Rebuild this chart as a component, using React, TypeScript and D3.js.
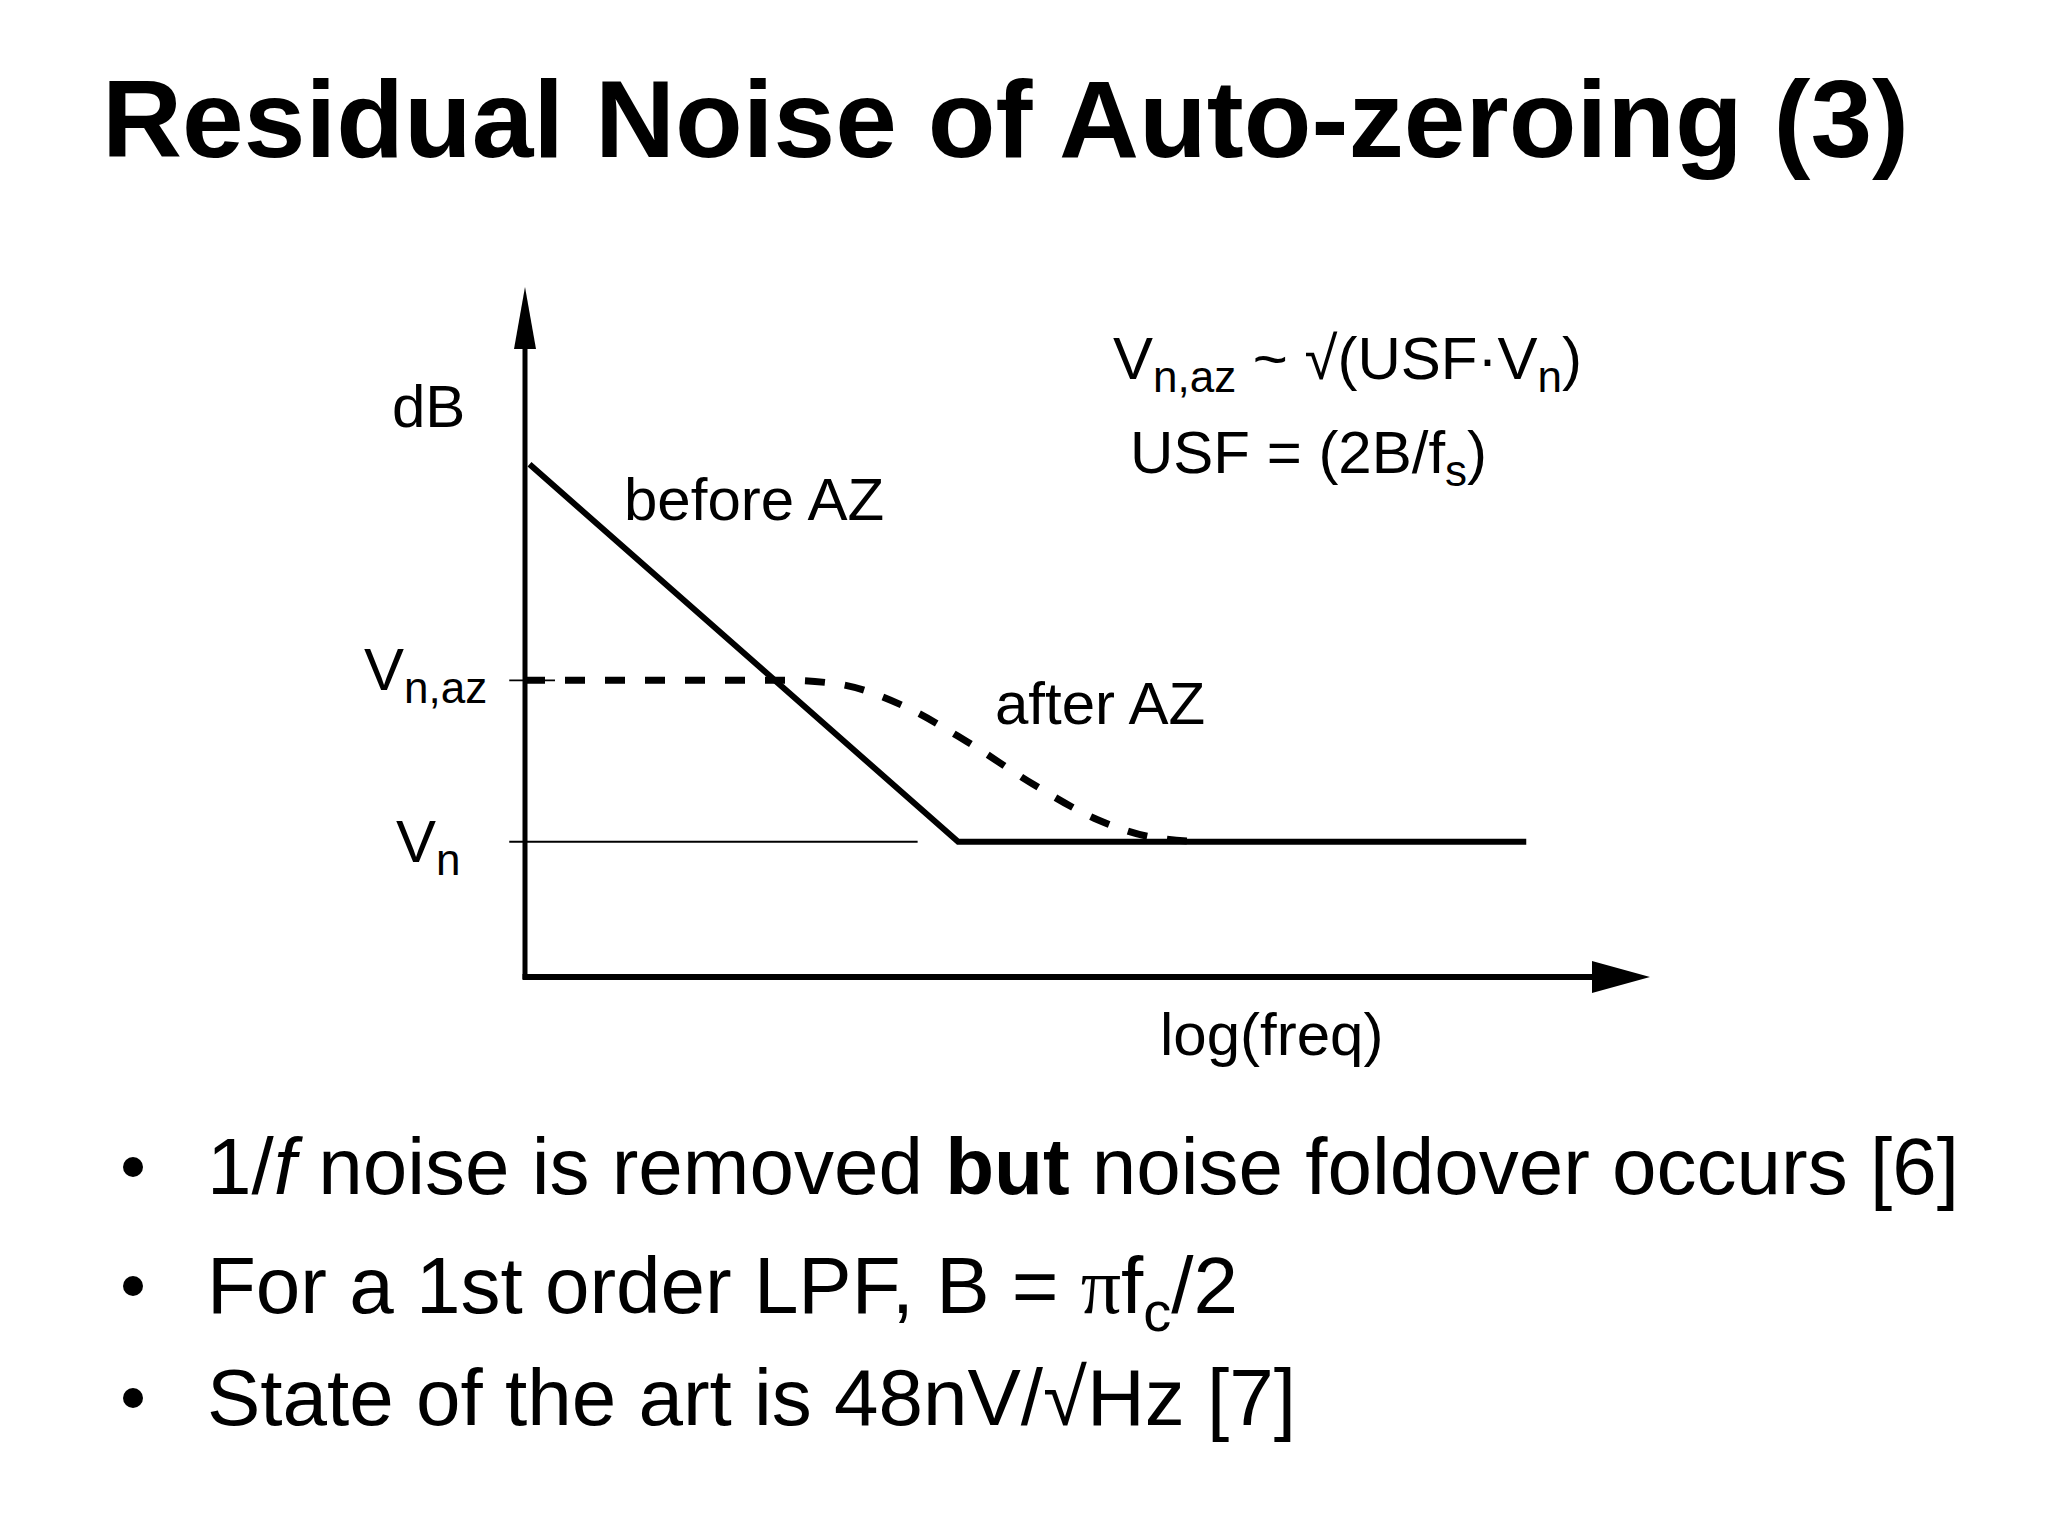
import React from "react";
import * as d3 from "d3";

// ---- data (axis units: x = log(freq) units, y = dB units) ----
const xDomain = [0, 10];
const yDomain = [0, 10];
const vnLevel = 1.96;
const vnazLevel = 4.3;
const beforeX = [0.04, 3.85, 8.9];
const beforeY = [7.43, vnLevel, vnLevel];
const afterX = [0.0, 2.31, 2.77, 3.35, 3.93, 4.51, 5.09, 5.56, 6.03];
const afterY = [vnazLevel, vnazLevel, 4.25, 3.94, 3.41, 2.8, 2.28, 2.03, vnLevel];
const vnRefX = [-0.14, 3.49];
const tickLabels = ["dB", "log(freq)"];

const FONT = "'Liberation Sans', Arial, Helvetica, sans-serif";

export default function App() {
  const x = d3.scaleLinear().domain(xDomain).range([525, 1650]);
  const y = d3.scaleLinear().domain(yDomain).range([977, 287]);
  const line = d3
    .line<[number, number]>()
    .x((d) => x(d[0]))
    .y((d) => y(d[1]));
  const curve = d3
    .line<[number, number]>()
    .x((d) => x(d[0]))
    .y((d) => y(d[1]))
    .curve(d3.curveMonotoneX);

  const beforePts = beforeX.map((v, i) => [v, beforeY[i]] as [number, number]);
  const afterPts = afterX.map((v, i) => [v, afterY[i]] as [number, number]);

  const x0 = x(0);
  const y0 = y(0);
  const xTip = x(xDomain[1]);
  const yTip = y(yDomain[1]);
  const bulletBase = [1194, 1313, 1425];

  return (
    <svg
      width={2048}
      height={1536}
      style={{ position: "absolute", left: 0, top: 0, background: "#fff" }}
      fontFamily={FONT}
    >
      <rect x={0} y={0} width={2048} height={1536} fill="#fff" />
      {/* title */}
      <text x={102} y={157} fontSize={110} fontWeight="bold" fill="#000" textLength={1807} lengthAdjust="spacingAndGlyphs">
        Residual Noise of Auto-zeroing (3)
      </text>

      {/* reference levels */}
      <line x1={x(vnRefX[0])} y1={y(vnLevel)} x2={x(vnRefX[1])} y2={y(vnLevel)} stroke="#000" strokeWidth={1.8} />
      <line x1={x(vnRefX[0])} y1={y(vnazLevel)} x2={x0 + 30} y2={y(vnazLevel)} stroke="#000" strokeWidth={1.8} />

      {/* axes */}
      <line x1={x0} y1={y0 + 2} x2={x0} y2={yTip + 50} stroke="#000" strokeWidth={5} />
      <path d={`M${x0},${yTip} L${x0 - 11},${yTip + 62} L${x0 + 11},${yTip + 62} Z`} fill="#000" />
      <line x1={x0 - 2.5} y1={y0} x2={xTip - 50} y2={y0} stroke="#000" strokeWidth={6} />
      <path d={`M${xTip},${y0} L${xTip - 58},${y0 - 16} L${xTip - 58},${y0 + 16} Z`} fill="#000" />

      {/* after AZ dashed */}
      <path d={curve(afterPts) || ""} fill="none" stroke="#000" strokeWidth={7} strokeDasharray="20 20" />
      {/* before AZ */}
      <path d={line(beforePts) || ""} fill="none" stroke="#000" strokeWidth={6} strokeLinejoin="miter" />

      {/* axis labels */}
      <text x={392} y={427} fontSize={60} fill="#000">{tickLabels[0]}</text>
      <text x={1160} y={1055} fontSize={60} fill="#000">{tickLabels[1]}</text>
      <text x={364} y={690} fontSize={60} fill="#000">
        V<tspan fontSize={44} dy={13}>n,az</tspan>
      </text>
      <text x={396} y={862} fontSize={60} fill="#000">
        V<tspan fontSize={44} dy={13}>n</tspan>
      </text>

      {/* curve labels */}
      <text x={624} y={520} fontSize={60} fill="#000">before AZ</text>
      <text x={995} y={724} fontSize={60} fill="#000">after AZ</text>

      {/* formulas */}
      <text x={1113} y={379} fontSize={60} fill="#000">
        V<tspan fontSize={44} dy={13}>n,az</tspan>
        <tspan fontSize={60} dy={-13}> ~ √(USF·V</tspan>
        <tspan fontSize={44} dy={13}>n</tspan>
        <tspan fontSize={60} dy={-13}>)</tspan>
      </text>
      <text x={1130} y={473} fontSize={60} fill="#000">
        USF = (2B/f<tspan fontSize={44} dy={13}>s</tspan>
        <tspan fontSize={60} dy={-13}>)</tspan>
      </text>

      {/* bullets */}
      {bulletBase.map((by, i) => (
        <circle key={i} cx={133} cy={by - 27} r={10} fill="#000" />
      ))}
      <text x={207} y={bulletBase[0]} fontSize={80} fill="#000">
        1/<tspan fontStyle="italic">f</tspan> noise is removed <tspan fontWeight="bold">but</tspan> noise foldover occurs [6]
      </text>
      <text x={207} y={bulletBase[1]} fontSize={80} fill="#000">
        For a 1st order LPF, B = <tspan fontFamily="'Liberation Serif', serif">π</tspan>f<tspan fontSize={56} dy={18}>c</tspan>
        <tspan fontSize={80} dy={-18}>/2</tspan>
      </text>
      <text x={207} y={bulletBase[2]} fontSize={80} fill="#000">
        State of the art is 48nV/√Hz [7]
      </text>
    </svg>
  );
}
